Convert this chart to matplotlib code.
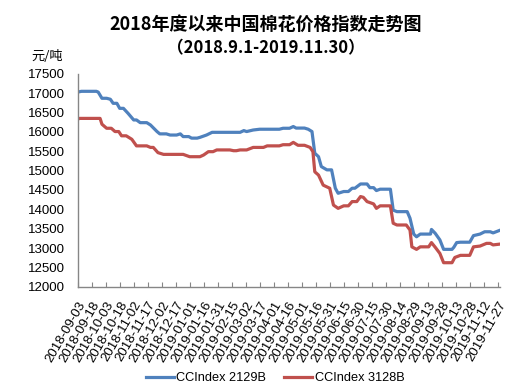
import matplotlib
matplotlib.use("Agg")
import matplotlib.pyplot as plt
import pandas as pd

plt.rcParams['font.family'] = ['Liberation Sans', 'Noto Sans CJK SC', 'DejaVu Sans']

title = "2018年度以来中国棉花价格指数走势图"
subtitle = "（2018.9.1-2019.11.30）"
unit_label = "元/吨"
series_names = ["CCIndex 2129B", "CCIndex 3128B"]

blue_dates = ["2018-09-03", "2018-09-07", "2018-09-23", "2018-09-25", "2018-09-29", "2018-10-04",
              "2018-10-08", "2018-10-11", "2018-10-15", "2018-10-18", "2018-10-22", "2018-10-27",
              "2018-11-02", "2018-11-05", "2018-11-09", "2018-11-16", "2018-11-20", "2018-11-27",
              "2018-11-30", "2018-12-07", "2018-12-11", "2018-12-18", "2018-12-22", "2018-12-25",
              "2018-12-31", "2019-01-03", "2019-01-09", "2019-01-12", "2019-01-19", "2019-01-25",
              "2019-02-24", "2019-02-28", "2019-03-03", "2019-03-10", "2019-03-17", "2019-04-07",
              "2019-04-11", "2019-04-18", "2019-04-22", "2019-04-25", "2019-05-04", "2019-05-08",
              "2019-05-12", "2019-05-15", "2019-05-19", "2019-05-22", "2019-05-28", "2019-06-02",
              "2019-06-06", "2019-06-09", "2019-06-15", "2019-06-20", "2019-06-24", "2019-06-27",
              "2019-07-03", "2019-07-10", "2019-07-13", "2019-07-17", "2019-07-20", "2019-07-24",
              "2019-08-04", "2019-08-07", "2019-08-11", "2019-08-22", "2019-08-25", "2019-08-29",
              "2019-09-01", "2019-09-05", "2019-09-16", "2019-09-17", "2019-09-21", "2019-09-26",
              "2019-09-30", "2019-10-09", "2019-10-11", "2019-10-14", "2019-10-18", "2019-10-28",
              "2019-11-01", "2019-11-08", "2019-11-13", "2019-11-19", "2019-11-22", "2019-11-29"]
blue_values = [17030, 17050, 17050, 17030, 16870, 16870,
               16845, 16740, 16740, 16610, 16610, 16480,
               16310, 16310, 16240, 16240, 16180, 16010,
               15950, 15950, 15920, 15920, 15950, 15880,
               15880, 15840, 15840, 15860, 15920, 15990,
               15990, 16035, 16010, 16050, 16070, 16070,
               16095, 16095, 16140, 16100, 16100, 16070,
               16010, 15450, 15360, 15105, 15020, 15020,
               14545, 14415, 14460, 14460, 14545, 14545,
               14655, 14655, 14560, 14560, 14485, 14520,
               14520, 13980, 13940, 13940, 13770, 13360,
               13290, 13360, 13360, 13480, 13380, 13210,
               12965, 12965, 13020, 13140, 13150, 13150,
               13320, 13360, 13420, 13420, 13390, 13455]

red_dates = ["2018-09-03", "2018-09-05", "2018-09-27", "2018-09-29", "2018-10-04", "2018-10-09",
             "2018-10-13", "2018-10-17", "2018-10-20", "2018-10-25", "2018-10-31", "2018-11-05",
             "2018-11-16", "2018-11-20", "2018-11-23", "2018-11-28", "2018-12-04", "2018-12-25",
             "2019-01-01", "2019-01-12", "2019-01-16", "2019-01-21", "2019-01-26", "2019-01-30",
             "2019-02-13", "2019-02-17", "2019-02-20", "2019-02-24", "2019-03-03", "2019-03-10",
             "2019-03-21", "2019-03-25", "2019-04-07", "2019-04-11", "2019-04-18", "2019-04-22",
             "2019-04-27", "2019-05-04", "2019-05-10", "2019-05-13", "2019-05-15", "2019-05-19",
             "2019-05-24", "2019-05-31", "2019-06-04", "2019-06-09", "2019-06-15", "2019-06-20",
             "2019-06-24", "2019-06-29", "2019-07-03", "2019-07-06", "2019-07-10", "2019-07-17",
             "2019-07-20", "2019-07-24", "2019-08-04", "2019-08-07", "2019-08-11", "2019-08-21",
             "2019-08-25", "2019-08-27", "2019-09-01", "2019-09-05", "2019-09-14", "2019-09-17",
             "2019-09-21", "2019-09-26", "2019-09-30", "2019-10-09", "2019-10-12", "2019-10-18",
             "2019-10-28", "2019-11-01", "2019-11-08", "2019-11-15", "2019-11-19", "2019-11-22",
             "2019-11-29"]
red_values = [16330, 16350, 16350, 16200, 16095, 16095,
              16010, 16010, 15900, 15900, 15810, 15640,
              15640, 15600, 15600, 15465, 15420, 15420,
              15360, 15360, 15405, 15490, 15490, 15535,
              15535, 15515, 15515, 15535, 15535, 15600,
              15600, 15640, 15640, 15670, 15670, 15730,
              15655, 15655, 15600, 15490, 14970, 14885,
              14625, 14545, 14110, 14025, 14090, 14090,
              14200, 14200, 14330, 14310, 14200, 14140,
              14025, 14090, 14090, 13640, 13595, 13595,
              13465, 13030, 12965, 13030, 13030, 13140,
              13020, 12860, 12620, 12620, 12755, 12810,
              12810, 13030, 13050, 13120, 13120, 13080,
              13100]

tick_dates = ["2018-09-03", "2018-09-18", "2018-10-03", "2018-10-18", "2018-11-02", "2018-11-17",
              "2018-12-02", "2018-12-17", "2019-01-01", "2019-01-16", "2019-01-31", "2019-02-15",
              "2019-03-02", "2019-03-17", "2019-04-01", "2019-04-16", "2019-05-01", "2019-05-16",
              "2019-05-31", "2019-06-15", "2019-06-30", "2019-07-15", "2019-07-30", "2019-08-14",
              "2019-08-29", "2019-09-13", "2019-09-28", "2019-10-13", "2019-10-28", "2019-11-12",
              "2019-11-27"]
y_ticks = [12000, 12500, 13000, 13500, 14000, 14500, 15000, 15500, 16000, 16500, 17000, 17500]

blue = "#4F81BD"
red = "#C0504D"
axis_gray = "#868686"

fig = plt.figure(figsize=(5.32, 3.89), dpi=100)
ax = fig.add_axes([0.146, 0.263, 0.794, 0.547])

ax.plot(pd.to_datetime(blue_dates), blue_values, color=blue, lw=2.3, label=series_names[0],
        solid_joinstyle='round')
ax.plot(pd.to_datetime(red_dates), red_values, color=red, lw=2.3, label=series_names[1],
        solid_joinstyle='round')

ax.set_ylim(12000, 17500)
ax.set_yticks(y_ticks)
ax.set_yticklabels([str(v) for v in y_ticks], fontsize=9.5)
ax.tick_params(axis='y', length=0, pad=9)

ticks = pd.to_datetime(tick_dates)
ax.set_xticks(ticks)
ax.set_xticklabels(tick_dates, rotation=60, ha='right', rotation_mode='anchor', fontsize=9.5)
ax.tick_params(axis='x', direction='in', length=3.5, color=axis_gray, pad=9)
ax.set_xlim(pd.Timestamp("2018-09-03"), pd.Timestamp("2018-09-03") + pd.Timedelta(days=452.5))

for s in ['top', 'right']:
    ax.spines[s].set_visible(False)
for s in ['left', 'bottom']:
    ax.spines[s].set_color(axis_gray)
    ax.spines[s].set_linewidth(1.0)

fig.text(0.5, 1 - 24 / 389, title, ha='center', va='center', fontsize=13, fontweight='bold',
         family=['Noto Sans CJK SC', 'DejaVu Sans'])
fig.text(0.5, 1 - 48 / 389, subtitle, ha='center', va='center', fontsize=12, fontweight='bold',
         family=['Noto Sans CJK SC', 'DejaVu Sans'])
fig.text(47 / 532, 1 - 57 / 389, unit_label, ha='center', va='center', fontsize=9.5,
         family=['Noto Sans CJK SC', 'DejaVu Sans'])

fig.legend(loc='center', bbox_to_anchor=(275 / 532, 1 - 378 / 389), ncol=2, frameon=False,
           fontsize=9.2, handlelength=2.2, handletextpad=0.2, columnspacing=1.4)

fig.savefig("out.png", dpi=100)
